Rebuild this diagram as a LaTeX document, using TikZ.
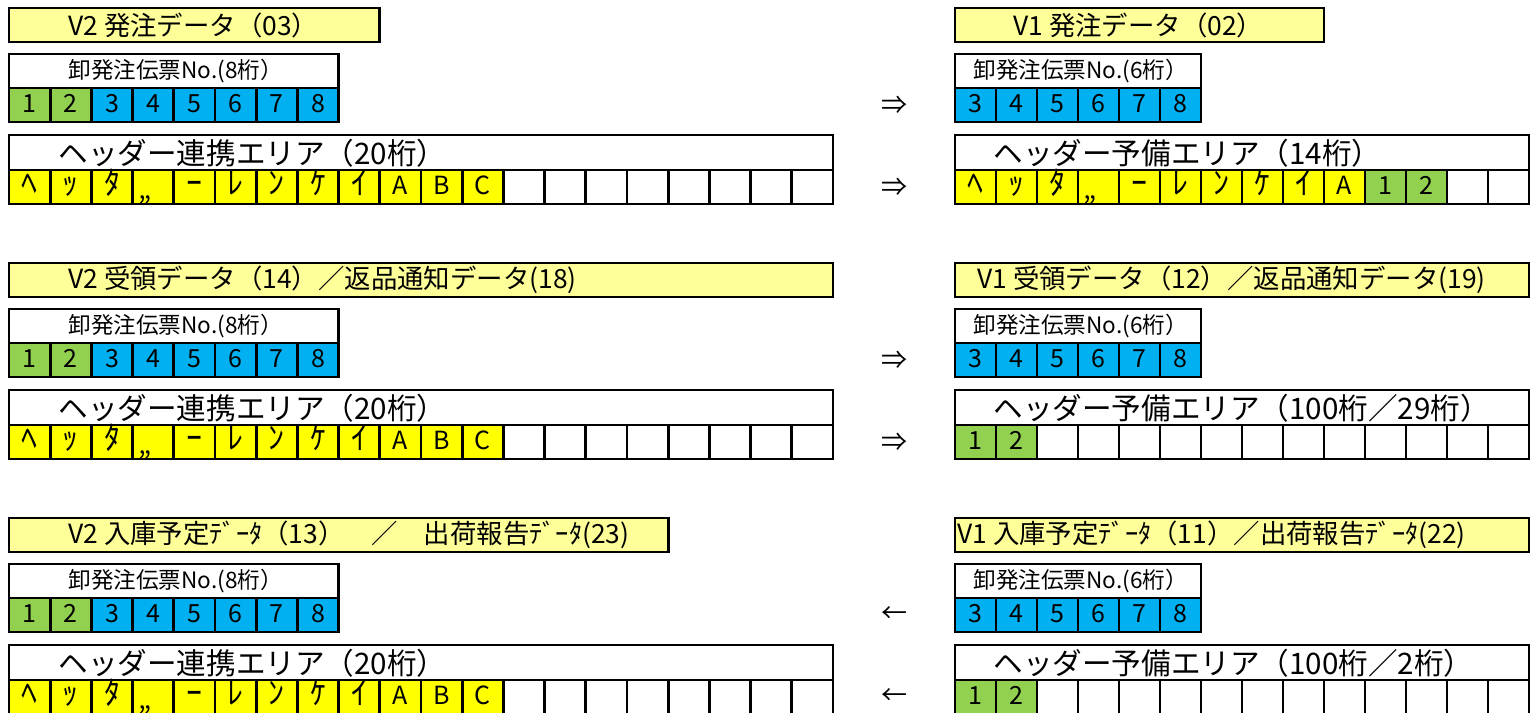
\documentclass[tikz,border=0pt]{standalone}
\usepackage{fontspec}
\newfontfamily\jp{Noto Sans CJK JP}
\newcommand\hk{\fontsize{16}{18}\selectfont}
\definecolor{ttl}{HTML}{FFFF99}
\definecolor{ylw}{HTML}{FFFF00}
\definecolor{grn}{HTML}{92D050}
\definecolor{blu}{HTML}{00B0F0}
\begin{document}
\begin{tikzpicture}[x=0.5pt,y=-0.5pt,
  box/.style={draw=black,line width=1.4pt,inner sep=0pt,outer sep=0pt,anchor=north west,minimum height=17pt},
  cell/.style={draw=black,line width=1.4pt,inner sep=0pt,outer sep=0pt,minimum height=17pt,text height=0.75em,text depth=0pt,font=\jp\fontsize{12.5}{14}\selectfont},
  ttxt/.style={inner sep=0pt,anchor=west,font=\jp\fontsize{13.2}{15}\selectfont},
  ltxt/.style={inner sep=0pt,anchor=west,font=\jp\fontsize{11.3}{13}\selectfont},
  htxt/.style={inner sep=0pt,anchor=west,font=\jp\fontsize{14.8}{17}\selectfont},
  dak/.style={inner sep=0pt,anchor=base west,font=\jp\fontsize{14}{15}\selectfont},
  arr/.style={inner sep=0pt,font=\jp\fontsize{13}{15}\selectfont}]
\path[use as bounding box,fill=white] (0,0) rectangle (1531,712);

% ---- titles ----
\node[box,fill=ttl,minimum width=185.4pt] (L1T) at (9,8) {};
\node[ttxt] (L1Tt) at (68,25) {V2 発注データ（03）};
\node[box,fill=ttl,minimum width=184.5pt] (R1T) at (955,8) {};
\node[ttxt] (R1Tt) at (1013,25) {V1 発注データ（02）};

\node[box,fill=ttl,minimum width=412pt] (L2T) at (9,263) {};
\node[ttxt] (L2Tt) at (68,280) {V2 受領データ（14）／返品通知データ(18)};
\node[box,fill=ttl,minimum width=287pt] (R2T) at (955,263) {};
\node[ttxt] (R2Tt) at (977,280) {V1 受領データ（12）／返品通知データ(19)};

\node[box,fill=ttl,minimum width=329.6pt] (L3T) at (9,518) {};
\node[ttxt] (L3Tt) at (68,535) {V2 入庫予定ﾃﾞｰﾀ（13）　／　出荷報告ﾃﾞｰﾀ(23)};
\node[box,fill=ttl,minimum width=287pt] (R3T) at (955,518) {};
\node[ttxt] (R3Tt) at (957,535) {V1 入庫予定ﾃﾞｰﾀ（11）／出荷報告ﾃﾞｰﾀ(22)};

\foreach \B [count=\b] in {8,263,518} {
  % left label
  \node[box,fill=white,minimum width=164.8pt] (Ll\b) at (9,\B+46) {};
  \node[ltxt] (Llt\b) at (68,\B+63) {卸発注伝票No.(8桁）};
  \foreach \c [count=\i] in {grn,grn,blu,blu,blu,blu,blu,blu}
    \node[cell,fill=\c,minimum width=20.6pt] (Lc\b-\i) at ({9+(\i-0.5)*41.2},\B+97) {\i};
  % right label
  \node[box,fill=white,minimum width=123pt] (Rl\b) at (955,\B+46) {};
  \node[ltxt] (Rlt\b) at (973,\B+63) {卸発注伝票No.(6桁）};
  \foreach \t [count=\i] in {3,4,5,6,7,8}
    \node[cell,fill=blu,minimum width=20.5pt] (Rc\b-\i) at ({955+(\i-0.5)*41},\B+97) {\t};
  % left header
  \node[box,fill=white,minimum width=412pt,minimum height=17.5pt] (Lh\b) at (9,\B+127) {};
  \node[htxt] (Lht\b) at (58,\B+145) {ヘッダー連携エリア（20桁）};
  \foreach \t [count=\i] in {{\hk ﾍ},{\hk ｯ},{\hk ﾀ},{},{\hk ｰ},{\hk ﾚ},{\hk ﾝ},{\hk ｹ},{\hk ｲ},A,B,C}
    \node[cell,fill=ylw,minimum width=20.6pt] (Lx\b-\i) at ({9+(\i-0.5)*41.2},\B+179) {\t};
  \foreach \i in {13,...,20}
    \node[cell,fill=white,minimum width=20.6pt] (Lx\b-\i) at ({9+(\i-0.5)*41.2},\B+179) {};
  \node[dak] (Ld\b) at (138,\B+191) {„};
  % right header
  \node[box,fill=white,minimum width=287pt,minimum height=17.5pt] (Rh\b) at (955,\B+127) {};
  \ifnum\b=1
    \node[htxt] (Rht\b) at (993,\B+145) {ヘッダー予備エリア（14桁）};
    \foreach \t [count=\i] in {{\hk ﾍ},{\hk ｯ},{\hk ﾀ},{},{\hk ｰ},{\hk ﾚ},{\hk ﾝ},{\hk ｹ},{\hk ｲ},A}
      \node[cell,fill=ylw,minimum width=20.5pt] (Rx\b-\i) at ({955+(\i-0.5)*41},\B+179) {\t};
    \node[cell,fill=grn,minimum width=20.5pt] (Rx\b-11) at ({955+10.5*41},\B+179) {1};
    \node[cell,fill=grn,minimum width=20.5pt] (Rx\b-12) at ({955+11.5*41},\B+179) {2};
    \foreach \i in {13,14}
      \node[cell,fill=white,minimum width=20.5pt] (Rx\b-\i) at ({955+(\i-0.5)*41},\B+179) {};
    \node[dak] (Rd\b) at (1083,\B+191) {„};
  \else
    \ifnum\b=2
      \node[htxt] (Rht\b) at (993,\B+145) {ヘッダー予備エリア（100桁／29桁）};
    \else
      \node[htxt] (Rht\b) at (993,\B+145) {ヘッダー予備エリア（100桁／2桁）};
    \fi
    \node[cell,fill=grn,minimum width=20.5pt] (Rx\b-1) at ({955+0.5*41},\B+179) {1};
    \node[cell,fill=grn,minimum width=20.5pt] (Rx\b-2) at ({955+1.5*41},\B+179) {2};
    \foreach \i in {3,...,14}
      \node[cell,fill=white,minimum width=20.5pt] (Rx\b-\i) at ({955+(\i-0.5)*41},\B+179) {};
  \fi
}

% arrows
\node[arr] (A1) at (894,105) {⇒};
\node[arr] (A2) at (894,187) {⇒};
\node[arr] (A3) at (894,360) {⇒};
\node[arr] (A4) at (894,442) {⇒};
\node[arr] (A5) at (894,615) {←};
\node[arr] (A6) at (894,697) {←};
\end{tikzpicture}
\end{document}
